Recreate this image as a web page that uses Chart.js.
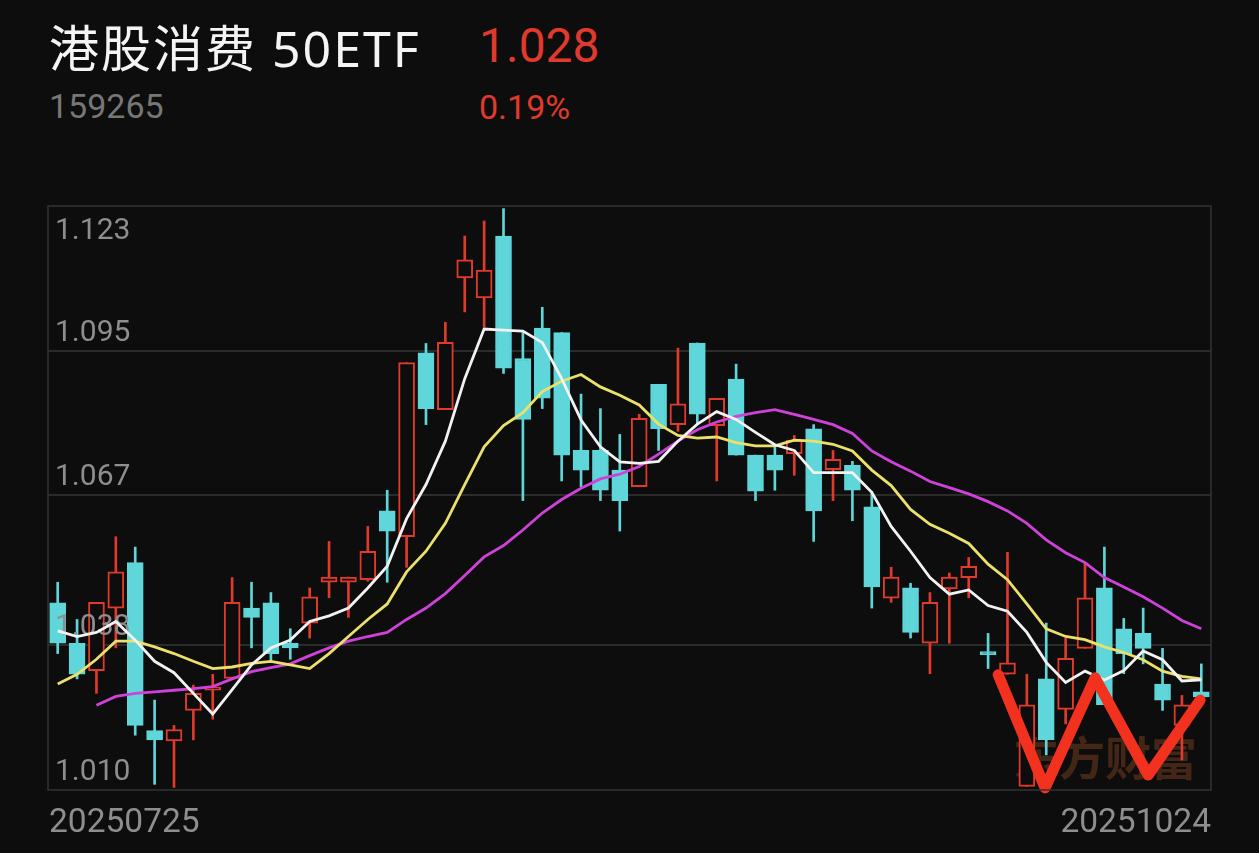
<!DOCTYPE html>
<html>
<head>
<meta charset="utf-8">
<script src="https://cdn.jsdelivr.net/npm/chart.js@4/dist/chart.umd.min.js"></script>
<style>
  html, body { margin: 0; padding: 0; background: #0d0d0d; }
  body { width: 1259px; height: 853px; position: relative; overflow: hidden; font-family: Roboto, "Noto Sans CJK SC", sans-serif; }
  .hd { position: absolute; line-height: 1; white-space: nowrap; }
  #title { left: 49px; top: 23px; font-size: 50px; letter-spacing: 2px; color: #f4f4f4; font-family: "Noto Sans", "Noto Sans CJK SC", sans-serif; }
  #price { left: 479px; top: 22px; font-size: 48px; color: #e03a2c; }
  #code { left: 49px; top: 89px; font-size: 34px; color: #777; }
  #pct { left: 479px; top: 90px; font-size: 34px; color: #e03a2c; }
  #chart { position: absolute; left: 0; top: 0; }
</style>
</head>
<body>
<div class="hd" id="title">港股消费 50ETF</div>
<div class="hd" id="price">1.028</div>
<div class="hd" id="code">159265</div>
<div class="hd" id="pct">0.19%</div>
<canvas id="chart" width="1259" height="853"></canvas>
<script>
// -- Data --
const dates = [
  '20250725', '20250728', '20250729', '20250730', '20250731',
  '20250801', '20250804', '20250805', '20250806', '20250807', '20250808',
  '20250811', '20250812', '20250813', '20250814', '20250815',
  '20250818', '20250819', '20250820', '20250821', '20250822',
  '20250825', '20250826', '20250827', '20250828', '20250829',
  '20250901', '20250902', '20250903', '20250904', '20250905',
  '20250908', '20250909', '20250910', '20250911', '20250912',
  '20250915', '20250916', '20250917', '20250918', '20250919',
  '20250922', '20250923', '20250924', '20250925', '20250926',
  '20250929', '20250930',
  '20251009', '20251010',
  '20251013', '20251014', '20251015', '20251016', '20251017',
  '20251020', '20251021', '20251022', '20251023', '20251024'
];

const opens = [
  1.0462, 1.0384, 1.0331, 1.0452, 1.0540, 1.0215, 1.0195, 1.0254, 1.0293, 1.0316,
  1.0452, 1.0462, 1.0384, 1.0423, 1.0502, 1.0502, 1.0507, 1.0640, 1.0590, 1.0946,
  1.0836, 1.1091, 1.1052, 1.1172, 1.0935, 1.0994, 1.0985, 1.0757, 1.0757, 1.0719,
  1.0687, 1.0885, 1.0807, 1.0965, 1.0805, 1.0895, 1.0748, 1.0748, 1.0751, 1.0799,
  1.0720, 1.0728, 1.0648, 1.0471, 1.0491, 1.0384, 1.0489, 1.0511, 1.0366, 1.0324,
  1.0107, 1.0315, 1.0256, 1.0374, 1.0491, 1.0412, 1.0403, 1.0305, 1.0225, 1.0290
];
const closes = [
  1.0384, 1.0324, 1.0463, 1.0522, 1.0225, 1.0197, 1.0217, 1.0287, 1.0295, 1.0463,
  1.0434, 1.0364, 1.0375, 1.0474, 1.0512, 1.0512, 1.0562, 1.0601, 1.0927, 1.0838,
  1.0966, 1.1126, 1.1106, 1.0916, 1.0817, 1.0858, 1.0748, 1.0719, 1.0680, 1.0660,
  1.0819, 1.0799, 1.0847, 1.0827, 1.0858, 1.0748, 1.0678, 1.0719, 1.0777, 1.0640,
  1.0740, 1.0680, 1.0493, 1.0512, 1.0405, 1.0463, 1.0512, 1.0533, 1.0362, 1.0346,
  1.0265, 1.0197, 1.0355, 1.0472, 1.0265, 1.0364, 1.0374, 1.0274, 1.0265, 1.0280
];
const highs = [
  1.0502, 1.0430, 1.0463, 1.0590, 1.0570, 1.0274, 1.0225, 1.0303, 1.0324, 1.0511,
  1.0502, 1.0482, 1.0412, 1.0491, 1.0581, 1.0512, 1.0610, 1.0680, 1.0927, 1.0964,
  1.1005, 1.1172, 1.1201, 1.1225, 1.0985, 1.1034, 1.0985, 1.0866, 1.0838, 1.0788,
  1.0827, 1.0885, 1.0955, 1.0965, 1.0858, 1.0924, 1.0748, 1.0766, 1.0786, 1.0807,
  1.0757, 1.0736, 1.0678, 1.0531, 1.0500, 1.0482, 1.0520, 1.0550, 1.0403, 1.0560,
  1.0324, 1.0423, 1.0394, 1.0540, 1.0570, 1.0432, 1.0452, 1.0374, 1.0283, 1.0344
];
const lows = [
  1.0364, 1.0315, 1.0287, 1.0375, 1.0206, 1.0111, 1.0105, 1.0197, 1.0237, 1.0316,
  1.0375, 1.0350, 1.0353, 1.0394, 1.0472, 1.0434, 1.0504, 1.0502, 1.0531, 1.0807,
  1.0836, 1.1025, 1.0996, 1.0906, 1.0660, 1.0838, 1.0698, 1.0687, 1.0660, 1.0601,
  1.0687, 1.0757, 1.0794, 1.0808, 1.0698, 1.0748, 1.0660, 1.0680, 1.0709, 1.0581,
  1.0660, 1.0621, 1.0452, 1.0463, 1.0394, 1.0325, 1.0384, 1.0472, 1.0335, 1.0324,
  1.0107, 1.0168, 1.0228, 1.0374, 1.0265, 1.0325, 1.0344, 1.0254, 1.0158, 1.0265
];

// moving averages
const ma5 = [
  1.0408, 1.0397, 1.0405, 1.0426, 1.0390, 1.0349, 1.0327, 1.0287, 1.0247, 1.0294,
  1.0342, 1.0375, 1.0390, 1.0426, 1.0437, 1.0452, 1.0491, 1.0533, 1.0625, 1.0691,
  1.0775, 1.0896, 1.0992, 1.0990, 1.0988, 1.0966, 1.0896, 1.0816, 1.0764, 1.0735,
  1.0732, 1.0736, 1.0775, 1.0808, 1.0832, 1.0817, 1.0792, 1.0768, 1.0757, 1.0714,
  1.0714, 1.0714, 1.0676, 1.0610, 1.0562, 1.0511, 1.0479, 1.0487, 1.0457, 1.0446,
  1.0405, 1.0347, 1.0308, 1.0330, 1.0313, 1.0331, 1.0369, 1.0352, 1.0311, 1.0313
];
const ma10 = [
  1.0305, 1.0324, 1.0353, 1.0388, 1.0388, 1.0377, 1.0364, 1.0349, 1.0335, 1.0338,
  1.0345, 1.0349, 1.0342, 1.0335, 1.0364, 1.0397, 1.0430, 1.0460, 1.0522, 1.0562,
  1.0616, 1.0691, 1.0764, 1.0805, 1.0830, 1.0871, 1.0891, 1.0904, 1.0880, 1.0864,
  1.0845, 1.0808, 1.0786, 1.0781, 1.0783, 1.0772, 1.0766, 1.0766, 1.0777, 1.0775,
  1.0769, 1.0756, 1.0719, 1.0689, 1.0643, 1.0614, 1.0597, 1.0577, 1.0537, 1.0507,
  1.0460, 1.0412, 1.0397, 1.0391, 1.0377, 1.0366, 1.0352, 1.0330, 1.0320, 1.0315
];
const ma20 = [
  null, null, 1.0264, 1.0281, 1.0287, 1.0290, 1.0293, 1.0296, 1.0300, 1.0315,
  1.0329, 1.0337, 1.0344, 1.0360, 1.0375, 1.0388, 1.0397, 1.0405, 1.0430, 1.0452,
  1.0480, 1.0515, 1.0551, 1.0573, 1.0603, 1.0636, 1.0662, 1.0684, 1.0702, 1.0711,
  1.0726, 1.0750, 1.0775, 1.0797, 1.0812, 1.0823, 1.0830, 1.0836, 1.0827, 1.0817,
  1.0807, 1.0790, 1.0756, 1.0735, 1.0717, 1.0697, 1.0685, 1.0673, 1.0658, 1.0640,
  1.0616, 1.0584, 1.0559, 1.0540, 1.0511, 1.0493, 1.0474, 1.0452, 1.0428, 1.0412
];

const yTicks = [1.123, 1.095, 1.067, 1.038, 1.010];

// hand-drawn "W" on the right (x in candle index units)
const wX = [48.52, 50.94, 53.52, 56.26, 58.94];
const wY = [1.0323, 1.0104, 1.0317, 1.0129, 1.0274];

const watermark = '东方财富';

// -- Colors --
const BG = '#0d0d0d';
const UP = '#e03a2c';
const DOWN = '#5fd6da';

const isUp = closes.map((c, i) => c >= opens[i]);

// -- Decorations: grid, frame, labels, watermark --
const decor = {
  id: 'decor',
  beforeDatasetsDraw(chart) {
    const { ctx, chartArea: a } = chart;
    const y = chart.scales.y;
    ctx.save();
    ctx.strokeStyle = '#2b2b2b';
    ctx.lineWidth = 2;
    yTicks.slice(1, -1).forEach(v => {
      const py = Math.round(y.getPixelForValue(v));
      ctx.beginPath();
      ctx.moveTo(a.left, py);
      ctx.lineTo(a.right, py);
      ctx.stroke();
    });
    ctx.font = 'bold 46px "Noto Sans CJK SC"';
    ctx.fillStyle = 'rgba(105, 55, 28, 0.6)';
    ctx.textAlign = 'right';
    ctx.textBaseline = 'alphabetic';
    ctx.fillText(watermark, a.right - 14, a.bottom - 15);
    ctx.restore();
  },
  afterDatasetDraw(chart, args) {
    if (args.index !== 1) return;
    const { ctx, chartArea: a } = chart;
    const y = chart.scales.y;
    ctx.save();
    ctx.font = '30px Roboto';
    ctx.fillStyle = '#8e8e8e';
    ctx.textAlign = 'left';
    yTicks.forEach((v, i) => {
      const py = y.getPixelForValue(v);
      if (i === 0) {
        ctx.textBaseline = 'top';
        ctx.fillText(v.toFixed(3), a.left + 7, py + 10);
      } else {
        ctx.textBaseline = 'alphabetic';
        ctx.fillText(v.toFixed(3), a.left + 7, py - 10);
      }
    });
    ctx.restore();
  },
  afterDraw(chart) {
    const { ctx, chartArea: a } = chart;
    ctx.save();
    ctx.strokeStyle = '#333';
    ctx.lineWidth = 1.5;
    ctx.strokeRect(a.left, a.top, a.right - a.left, a.bottom - a.top);
    ctx.font = '33.5px Roboto';
    ctx.fillStyle = '#8e8e8e';
    ctx.textBaseline = 'alphabetic';
    ctx.textAlign = 'left';
    ctx.fillText(dates[0], a.left + 1, a.bottom + 42);
    ctx.textAlign = 'right';
    ctx.fillText(dates[dates.length - 1], a.right, a.bottom + 42);
    ctx.restore();
  }
};

const maLine = (data, color) => ({
  type: 'line',
  data: data,
  borderColor: color,
  borderWidth: 2.8,
  pointRadius: 0,
  tension: 0,
  order: 1
});

new Chart(document.getElementById('chart'), {
  type: 'bar',
  data: {
    labels: dates,
    datasets: [
      {
        // wicks
        data: dates.map((_, i) => [lows[i], highs[i]]),
        backgroundColor: isUp.map(u => u ? UP : DOWN),
        barThickness: 2,
        grouped: false,
        order: 3
      },
      {
        // bodies
        data: dates.map((_, i) => [opens[i], closes[i]]),
        backgroundColor: isUp.map(u => u ? BG : DOWN),
        borderColor: isUp.map(u => u ? UP : DOWN),
        borderWidth: 2,
        borderSkipped: false,
        barThickness: 16,
        minBarLength: 3,
        grouped: false,
        order: 2
      },
      maLine(ma5, '#f2f2f2'),
      maLine(ma10, '#ebe06a'),
      maLine(ma20, '#cf42d9'),
      {
        type: 'line',
        xAxisID: 'xw',
        data: wX.map((x, i) => ({ x: x, y: wY[i] })),
        borderColor: '#f2321f',
        borderWidth: 11,
        borderCapStyle: 'round',
        borderJoinStyle: 'round',
        pointRadius: 0,
        tension: 0,
        clip: false,
        order: 0
      }
    ]
  },
  options: {
    responsive: false,
    animation: false,
    layout: { padding: { left: 48, right: 48, top: 206, bottom: 63 } },
    plugins: { legend: { display: false }, tooltip: { enabled: false } },
    scales: {
      x: { display: false, offset: true },
      xw: { type: 'linear', display: false, offset: false, min: -0.5, max: 59.5 },
      y: { display: false, min: 1.010, max: 1.123 }
    }
  },
  plugins: [decor]
});
</script>
</body>
</html>
